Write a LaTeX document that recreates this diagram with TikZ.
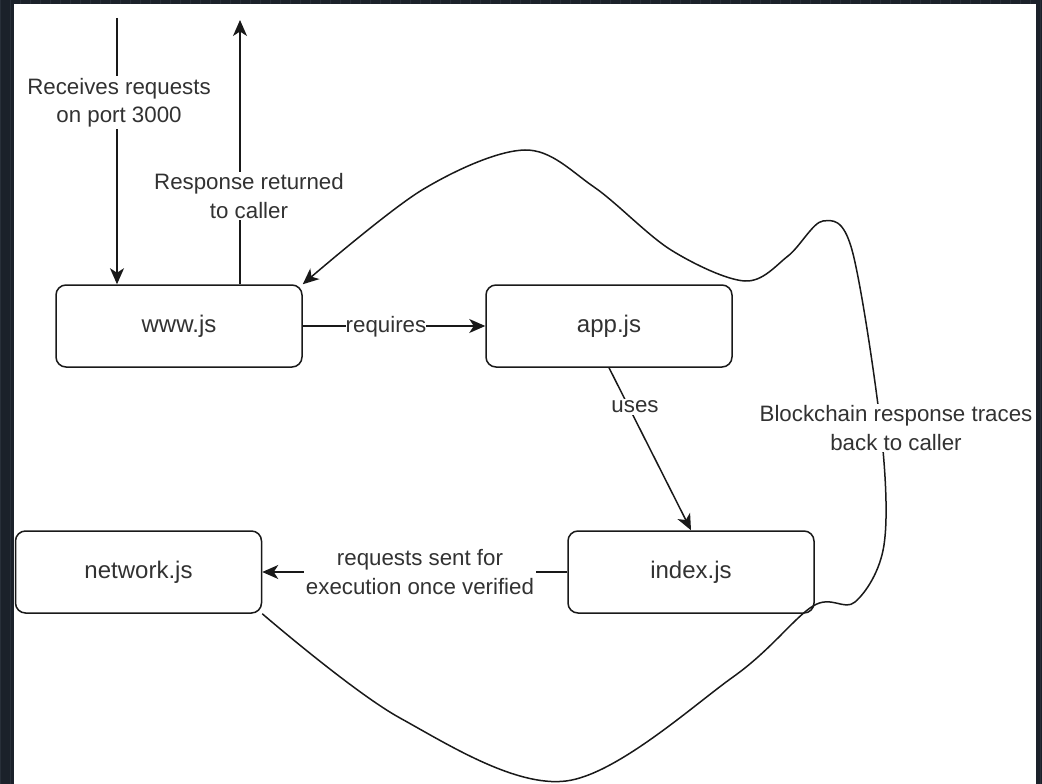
\documentclass[tikz,border=0pt]{standalone}
\usepackage{fontspec}
\setmainfont{Liberation Sans}
\usetikzlibrary{arrows.meta}
\definecolor{bgdark}{RGB}{27,33,42}
\definecolor{gridc}{RGB}{40,47,57}
\definecolor{ink}{RGB}{25,25,25}
\definecolor{txt}{RGB}{50,50,50}
\begin{document}
\begin{tikzpicture}[x=1pt,y=-1pt,
  box/.style={draw=ink, line width=1.5pt, rounded corners=10pt, fill=white,
    minimum width=246pt, minimum height=82pt, inner sep=0pt,
    font=\fontsize{24}{28}\selectfont, text=txt},
  lbl/.style={fill=white, inner sep=1.5pt, align=center,
    font=\fontsize{22.3}{28.5}\selectfont, text=txt},
  conn/.style={draw=ink, line width=1.5pt},
  arr/.style={conn, -{Stealth[length=16pt,width=14pt,inset=4.5pt]}}]
\useasboundingbox (0,0) rectangle (1042,784);
\fill[bgdark] (0,0) rectangle (1042,784);
\draw[gridc, line width=0.6pt, step=10] (0,0) grid (1042,784);
\fill[white] (14,4) rectangle (1036,784);

% boxes
\node[box] (www) at (179,326) {www.js};
\node[box] (app) at (609,326) {app.js};
\node[box] (index) at (691,572) {index.js};
\node[box] (network) at (138.5,572) {network.js};

% straight connectors
\coordinate (inTop) at (117,18);
\coordinate (outTop) at (240,20);
\draw[arr] (inTop) -- (inTop |- www.north);
\draw[arr] (outTop |- www.north) -- (outTop);
\draw[arr] (www.east) -- (app.west);
\draw[arr] (app.south) -- (index.north);
\draw[arr] (index.west) -- (network.east);

% long curved connector
\coordinate (b1) at (400,718);
\coordinate (b2) at (566,781);
\coordinate (b3) at (733,677);
\coordinate (b4) at (813,606);
\coordinate (b5) at (855,602);
\coordinate (b6) at (884,545);
\coordinate (b7) at (881,430);
\coordinate (b8) at (852,250);
\coordinate (b9) at (823,221);
\coordinate (b10) at (788,256);
\coordinate (b11) at (745,281);
\coordinate (b12) at (671,250);
\coordinate (b13) at (594,187);
\coordinate (b14) at (525,150);
\coordinate (b15) at (422,190);
\draw[arr] plot[smooth, tension=0.55] coordinates {(network.south east) (b1) (b2) (b3) (b4) (b5) (b6) (b7) (b8) (b9) (b10) (b11) (b12) (b13) (b14) (b15) (www.north east)};

% labels
\node[lbl] (lin) at (119,102.5) {Receives requests\\on port 3000};
\node[lbl] (lout) at (249,196) {Response returned\\to caller};
\node[lbl, inner sep=0pt] (lreq) at (386,327) {requires};
\node[lbl] (luses) at (635,407) {uses};
\node[lbl] (lsent) at (420,572) {requests sent for\\execution once verified};
\node[lbl] (lback) at (896,428) {Blockchain response traces\\back to caller};
\end{tikzpicture}
\end{document}
